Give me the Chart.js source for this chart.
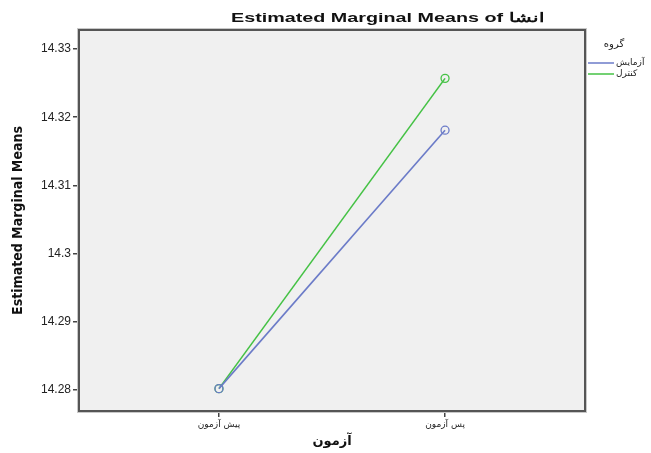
<!DOCTYPE html>
<html>
<head>
<meta charset="utf-8">
<script src="https://cdn.jsdelivr.net/npm/chart.js@4.4.1/dist/chart.umd.min.js"></script>
<style>
  html, body { margin: 0; padding: 0; background: #fff; }
  #wrap { width: 651px; height: 453px; position: relative; }
</style>
</head>
<body>
<div id="wrap"><canvas id="emm"></canvas></div>
<script>
// ── data ──
const categories  = ['پیش آزمون', 'پس آزمون'];
const groupNames  = ['آزمایش', 'کنترل'];
const groupColors = ['#6b7bc8', '#45c245'];
const testValues    = [14.2802, 14.3181];   // آزمایش
const controlValues = [14.2802, 14.3257];   // کنترل
const yTicks = [14.28, 14.29, 14.30, 14.31, 14.32, 14.33];

const TITLE = 'Estimated Marginal Means of انشا';
const LEGEND_TITLE = 'گروه';

// plot-frame background + border, custom title and legend
const spssFrame = {
  id: 'spssFrame',
  beforeDraw(chart) {
    const { ctx, chartArea: a } = chart;
    ctx.save();
    ctx.fillStyle = '#f0f0f0';
    ctx.fillRect(a.left, a.top, a.right - a.left, a.bottom - a.top);
    ctx.restore();
  },
  afterDraw(chart) {
    const { ctx, chartArea: a } = chart;
    ctx.save();
    ctx.strokeStyle = '#c8c8c8';
    ctx.lineWidth = 1;
    ctx.strokeRect(a.left - 1.5, a.top - 1.5, a.right - a.left + 3, a.bottom - a.top + 3);
    ctx.strokeStyle = '#555';
    ctx.lineWidth = 2;
    ctx.strokeRect(a.left, a.top, a.right - a.left, a.bottom - a.top);

    // title — SPSS draws it wide, so stretch horizontally
    ctx.save();
    ctx.fillStyle = '#111';
    ctx.font = 'bold 13px "Liberation Sans", Arial, sans-serif';
    ctx.textAlign = 'center';
    ctx.textBaseline = 'middle';
    const w = ctx.measureText(TITLE).width;
    const sx = 314 / w;
    ctx.translate(388, 18);
    ctx.scale(sx, 1);
    ctx.fillText(TITLE, 0, 0);
    ctx.restore();

    // legend
    ctx.textAlign = 'center';
    ctx.textBaseline = 'middle';
    ctx.font = '10px "DejaVu Sans", sans-serif';
    ctx.fillStyle = '#222';
    ctx.fillText(LEGEND_TITLE, 614, 44);
    groupNames.forEach((name, i) => {
      const y = 63 + i * 11;
      ctx.strokeStyle = groupColors[i];
      ctx.lineWidth = 1.5;
      ctx.beginPath();
      ctx.moveTo(588, y);
      ctx.lineTo(614, y);
      ctx.stroke();
      ctx.textAlign = 'left';
      ctx.fillStyle = '#222';
      ctx.font = '9px "DejaVu Sans", sans-serif';
      ctx.fillText(name, 616, y);
    });
    ctx.restore();
  }
};

const toPoints = vals => vals.map((v, i) => ({ x: i, y: v }));

new Chart(document.getElementById('emm'), {
  type: 'line',
  data: {
    datasets: [
      {
        label: groupNames[0],
        data: toPoints(testValues),
        borderColor: groupColors[0],
        backgroundColor: 'rgba(0,0,0,0)',
        pointBorderColor: groupColors[0],
        pointBackgroundColor: 'rgba(0,0,0,0)',
        pointRadius: 4, pointBorderWidth: 1.3,
        borderWidth: 1.6, tension: 0,
      },
      {
        label: groupNames[1],
        data: toPoints(controlValues),
        borderColor: groupColors[1],
        backgroundColor: 'rgba(0,0,0,0)',
        pointBorderColor: groupColors[1],
        pointBackgroundColor: 'rgba(0,0,0,0)',
        pointRadius: 4, pointBorderWidth: 1.3,
        borderWidth: 1.6, tension: 0,
      },
    ],
  },
  options: {
    responsive: true, maintainAspectRatio: false,
    animation: false,
    layout: { padding: { top: 30, right: 66, left: 0, bottom: 0 } },
    plugins: {
      legend: { display: false },
      title: { display: false },
      tooltip: { enabled: false },
    },
    scales: {
      x: {
        type: 'linear',
        min: -0.619, max: 1.619,
        afterBuildTicks: s => { s.ticks = categories.map((c, i) => ({ value: i })); },
        afterFit: s => { s.height = 42; },
        ticks: {
          callback: v => categories[v],
          font: { family: 'DejaVu Sans', size: 9 },
          color: '#222', padding: 2, maxRotation: 0,
        },
        grid: { drawOnChartArea: false, drawTicks: true, tickLength: 6, color: '#444', lineWidth: 1.5 },
        border: { display: false },
        title: {
          display: true, text: 'آزمون',
          font: { family: 'DejaVu Sans', size: 13, weight: 'bold' },
          color: '#111', padding: { top: 2, bottom: 4 },
        },
      },
      y: {
        min: 14.27692, max: 14.33279,
        afterBuildTicks: s => { s.ticks = yTicks.map(v => ({ value: v })); },
        afterFit: s => { s.width = 79; },
        ticks: {
          callback: v => String(+v.toFixed(2)),
          font: { family: 'Liberation Sans', size: 12 },
          color: '#222', padding: 2,
        },
        grid: { drawOnChartArea: false, drawTicks: true, tickLength: 6, color: '#444', lineWidth: 1.5 },
        border: { display: false },
        title: {
          display: true, text: 'Estimated Marginal Means',
          font: { family: '"DejaVu Sans Condensed", "Liberation Sans", sans-serif', size: 14, weight: 'bold' },
          color: '#111', padding: { top: 10, bottom: 4 },
        },
      },
    },
  },
  plugins: [spssFrame],
});
</script>
</body>
</html>
